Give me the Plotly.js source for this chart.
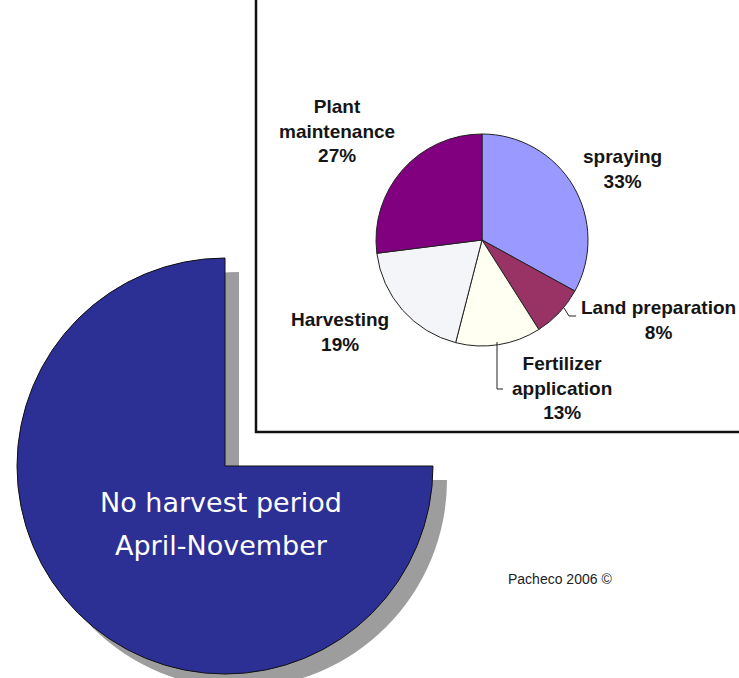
<!DOCTYPE html>
<html>
<head>
<meta charset="utf-8">
<script src="https://cdn.plot.ly/plotly-3.0.1.min.js"></script>
<style>
html,body{margin:0;padding:0;background:#fff;overflow:hidden;}
#chart{width:739px;height:700px;}
</style>
</head>
<body>
<div id="chart"></div>
<script>
// ---- data ----
const bigLabels = ["Harvest period", "No harvest period April-November"];
const bigValues = [25, 75];
const bigText = ["No harvest period", "April-November"];

const smallLabels = ["spraying", "Land preparation", "Fertilizer application", "Harvesting", "Plant maintenance"];
const smallLabelLines = ["spraying", "Land preparation", "Fertilizer<br>application", "Harvesting", "Plant<br>maintenance"];
const smallValues = [33, 8, 13, 19, 27];
const smallColors = ["#9999ff", "#993366", "#fffff2", "#f4f5f9", "#800080"];

const credit = "Pacheco 2006 ©";

// ---- layout helpers (pixel -> paper) ----
const W = 739, H = 700;
const px = x => x / W;
const py = y => 1 - y / H;
function domainFor(cx, cy, r) {
  return { x: [px(cx - r), px(cx + r)], y: [py(cy + r), py(cy - r)] };
}

const total = smallValues.reduce((a, b) => a + b, 0);
const pct = smallValues.map(v => Math.round(v / total * 100) + "%");

const traces = [
  { // shadow of big pie
    type: "pie", labels: bigLabels, values: bigValues, sort: false,
    direction: "clockwise", rotation: 0, textinfo: "none", hoverinfo: "none",
    marker: { colors: ["rgba(0,0,0,0)", "#9d9d9d"], line: { width: 0 } },
    domain: domainFor(239, 480, 208), showlegend: false
  },
  { // big pie
    type: "pie", labels: bigLabels, values: bigValues, sort: false,
    direction: "clockwise", rotation: 0, textinfo: "none", hoverinfo: "none",
    marker: { colors: ["rgba(0,0,0,0)", "#2c2f94"], line: { width: [0, 1], color: "#111" } },
    domain: domainFor(225, 466, 208), showlegend: false
  },
  { // small pie
    type: "pie", labels: smallLabels, values: smallValues, sort: false,
    direction: "clockwise", rotation: 0, textinfo: "none", hoverinfo: "none",
    marker: { colors: smallColors, line: { width: 1, color: "#222" } },
    domain: domainFor(482, 240, 106), showlegend: false
  }
];

// label positions (pixels) for the small pie labels, same order as smallLabels
const labelPos = [[622, 169], [658, 320], [562, 388], [340, 332], [337, 131]];
const annotations = smallLabels.map((l, i) => ({
  xref: "paper", yref: "paper", x: px(labelPos[i][0]), y: py(labelPos[i][1]),
  xanchor: "center", yanchor: "middle", showarrow: false, align: "center",
  text: smallLabelLines[i] + "<br>" + pct[i],
  font: { family: "Liberation Sans, Arial, sans-serif", size: 19, color: "#151515", weight: "bold" }
}));

const bigTextPos = [[221, 503], [221, 545]];
bigText.forEach((t, i) => annotations.push({
  xref: "paper", yref: "paper", x: px(bigTextPos[i][0]), y: py(bigTextPos[i][1]),
  xanchor: "center", yanchor: "middle", showarrow: false,
  text: t, font: { family: "DejaVu Sans, sans-serif", size: 27, color: "#ffffff" }
}));

annotations.push({
  xref: "paper", yref: "paper", x: px(560), y: py(579),
  xanchor: "center", yanchor: "middle", showarrow: false,
  text: credit, font: { family: "Liberation Sans, Arial, sans-serif", size: 14, color: "#222" }
});

const P = (pts) => "M" + pts.map(p => px(p[0]) + "," + py(p[1])).join(" L");

const shapes = [
  { type: "rect", xref: "paper", yref: "paper", x0: px(256), x1: px(800), y0: py(432), y1: py(-20),
    line: { color: "#111", width: 2.5 }, fillcolor: "rgba(0,0,0,0)", layer: "below" },
  { type: "path", xref: "paper", yref: "paper", path: P([[564, 308], [569, 316], [576, 316]]),
    line: { color: "#222", width: 1 } },
  { type: "path", xref: "paper", yref: "paper", path: P([[497, 342], [497, 389], [503, 389]]),
    line: { color: "#222", width: 1 } }
];

const layout = {
  width: W, height: H,
  margin: { l: 0, r: 0, t: 0, b: 0 },
  paper_bgcolor: "#ffffff", plot_bgcolor: "#ffffff",
  showlegend: false,
  annotations: annotations,
  shapes: shapes
};

Plotly.newPlot("chart", traces, layout, { staticPlot: true, displayModeBar: false });
</script>
</body>
</html>
